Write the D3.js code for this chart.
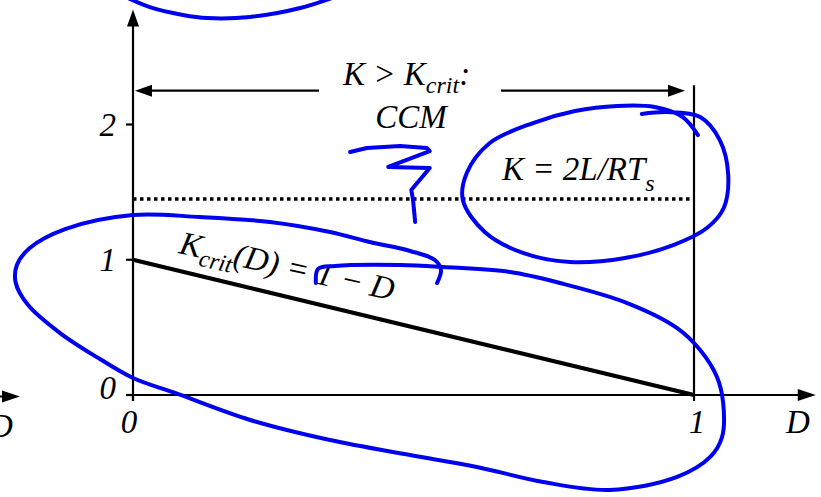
<!DOCTYPE html>
<html><head><meta charset="utf-8">
<script src="https://cdn.jsdelivr.net/npm/d3@7"></script>
<style>
html,body{margin:0;padding:0;background:#fff;overflow:hidden}
text{font-family:"Liberation Serif","Times New Roman",Times,serif;font-style:italic;fill:#000}
</style>
</head><body>
<svg id="chart" width="821" height="497"></svg>
<script>
// Axis ticks
const xTicks = [0, 1];
const yTicks = [0, 1, 2];
// Critical K boundary: K_crit(D) = 1 - D
const critCurve = [[0, 1], [1, 0]];
// Level of K = 2L/RT_s
const kLevel = 1.45;
// Right edge of the D range
const dMax = 1;
// Extents of the arrows and guide lines (data units)
const axisTopK = 2.85, axisRightD = 1.217, regionArrowK = 2.25, edgeTopK = 2.29;

// Blue pen strokes, in (D, K) units
const penLoopLower = [
  [0.326,0.828],[0.330,0.932],[0.360,0.954],[0.476,0.961],[0.553,0.946],[0.672,0.909],
  [0.761,0.828],[0.881,0.680],[0.970,0.495],[1.011,0.333],[1.041,0.133],[1.052,-0.059],
  [1.050,-0.311],[1.029,-0.458],[0.970,-0.606],[0.850,-0.702],[0.731,-0.643],[0.613,-0.532],
  [0.494,-0.444],[0.351,-0.333],[0.209,-0.185],[0.075,0.015],[0.000,0.126],[-0.059,0.266],
  [-0.130,0.458],[-0.187,0.665],[-0.209,0.828],[-0.207,0.961],[-0.184,1.087],[-0.121,1.227],
  [0.000,1.331],[0.119,1.316],[0.244,1.279],[0.351,1.205],[0.422,1.131],[0.494,1.065],
  [0.538,0.998],[0.549,0.924],[0.542,0.828]
];
const penArcTop = [
  [-0.020,2.957],[0.030,2.868],[0.089,2.810],[0.132,2.787],[0.209,2.795],[0.298,2.861],[0.369,2.957]
];
const penScribble = [
  [0.387,1.797],[0.417,1.826],[0.476,1.841],[0.524,1.826],[0.529,1.804],
  [0.455,1.686],[0.529,1.678],[0.496,1.516],[0.499,1.449],[0.503,1.279]
];
const penLoopLevel = [
  [0.907,2.078],[0.952,2.092],[1.011,2.055],[1.046,1.885],[1.061,1.627],[1.053,1.383],
  [1.023,1.235],[0.963,1.109],[0.877,1.013],[0.779,0.983],[0.695,1.050],[0.627,1.205],
  [0.588,1.442],[0.595,1.641],[0.636,1.863],[0.713,2.011],[0.788,2.100],[0.863,2.137],
  [0.930,2.129],[0.980,2.055],[1.007,1.922]
];

const svg = d3.select("#chart");
const x = d3.scaleLinear().domain([0, 1]).range([133, 694]);
const y = d3.scaleLinear().domain([0, 2]).range([395, 124.5]);

const FS = 33, SUB = 24;

function arrowHead(tip, dir, len, half) {
  // dir: unit vector pointing toward the tip
  const [tx, ty] = tip, [dx, dy] = dir;
  const bx = tx - dx * len, by = ty - dy * len;
  const px = -dy * half, py = dx * half;
  svg.append("polygon")
    .attr("points", [[tx, ty], [bx + px, by + py], [bx - px, by - py]].map(p => p.join(",")).join(" "))
    .attr("fill", "#000");
}

// Dotted level K = 2L/RT_s
svg.append("line")
  .attr("x1", x(0)).attr("x2", x(dMax))
  .attr("y1", y(kLevel)).attr("y2", y(kLevel))
  .attr("stroke", "#000").attr("stroke-width", 3.5)
  .attr("stroke-dasharray", "3.5,3.5");

// Right edge D = 1
svg.append("line")
  .attr("x1", x(dMax)).attr("x2", x(dMax))
  .attr("y1", y(edgeTopK)).attr("y2", y(0))
  .attr("stroke", "#000").attr("stroke-width", 2.2);

// Axes
svg.append("line").attr("x1", x(0)).attr("x2", x(axisRightD) - 12)
  .attr("y1", y(0)).attr("y2", y(0)).attr("stroke", "#000").attr("stroke-width", 2.2);
arrowHead([x(axisRightD), y(0)], [1, 0], 18, 6);
svg.append("line").attr("x1", x(0)).attr("x2", x(0))
  .attr("y1", y(0) + 6).attr("y2", y(axisTopK) + 12).attr("stroke", "#000").attr("stroke-width", 2.2);
arrowHead([x(0), y(axisTopK)], [0, -1], 17, 6);

// Ticks
yTicks.forEach(t => {
  svg.append("line").attr("x1", x(0) - 7).attr("x2", x(0))
    .attr("y1", y(t)).attr("y2", y(t)).attr("stroke", "#000").attr("stroke-width", 2.2);
  svg.append("text").attr("x", x(0) - 17).attr("y", y(t) + (t === 0 ? 4 : 11))
    .attr("text-anchor", "end").attr("font-size", FS).text(t);
});
xTicks.forEach(t => {
  svg.append("line").attr("x1", x(t)).attr("x2", x(t))
    .attr("y1", y(0)).attr("y2", y(0) + 6).attr("stroke", "#000").attr("stroke-width", 2.2);
  svg.append("text").attr("x", x(t) - 4 + t * 7).attr("y", y(0) + 38)
    .attr("text-anchor", "middle").attr("font-size", FS).text(t);
});
svg.append("text").attr("x", 786).attr("y", y(0) + 38).attr("font-size", FS).text("D");

// Neighbouring panel's axis end at the left edge
svg.append("line").attr("x1", -5).attr("x2", 4).attr("y1", y(0) + 1.5).attr("y2", y(0) + 1.5)
  .attr("stroke", "#000").attr("stroke-width", 2);
arrowHead([20, y(0) + 1.5], [1, 0], 18, 6);
svg.append("text").attr("x", -11).attr("y", y(0) + 42).attr("font-size", FS).text("D");

// K_crit(D) line
svg.append("path").datum(critCurve)
  .attr("d", d3.line().x(d => x(d[0])).y(d => y(d[1])))
  .attr("stroke", "#000").attr("stroke-width", 4).attr("fill", "none");

// Region arrows
const ra = y(regionArrowK);
svg.append("line").attr("x1", x(0) + 15).attr("x2", 319).attr("y1", ra).attr("y2", ra)
  .attr("stroke", "#000").attr("stroke-width", 2.2);
arrowHead([x(0) + 2, ra], [-1, 0], 17, 6);
svg.append("line").attr("x1", 501).attr("x2", x(dMax) - 22).attr("y1", ra).attr("y2", ra)
  .attr("stroke", "#000").attr("stroke-width", 2.2);
arrowHead([x(dMax) - 9, ra], [1, 0], 17, 6);

// Labels
const t1 = svg.append("text").attr("x", 343).attr("y", 85).attr("font-size", FS);
t1.append("tspan").text("K > K");
t1.append("tspan").attr("font-size", SUB).attr("dy", 8).text("crit");
t1.append("tspan").attr("dy", -8).text(":");
svg.append("text").attr("x", 411).attr("y", 128).attr("text-anchor", "middle")
  .attr("font-size", FS).text("CCM");
const t2 = svg.append("text").attr("x", 502).attr("y", 180).attr("font-size", FS);
t2.append("tspan").text("K = 2L/RT");
t2.append("tspan").attr("font-size", SUB).attr("dy", 11).text("s");

const t3 = svg.append("text").attr("font-size", FS)
  .attr("transform", `translate(178,253) rotate(12.5)`);
t3.append("tspan").text("K");
t3.append("tspan").attr("font-size", SUB).attr("dy", 8).text("crit");
t3.append("tspan").attr("dy", -8).text("(D) = 1 \u2212 D");

// Blue pen strokes
const pen = d3.line().x(d => x(d[0])).y(d => y(d[1]));
[penLoopLower, penArcTop, penLoopLevel].forEach(s => {
  svg.append("path").datum(s)
    .attr("d", pen.curve(d3.curveCatmullRom.alpha(0.5)))
    .attr("stroke", "#0000f0").attr("stroke-width", 4).attr("fill", "none")
    .attr("stroke-linecap", "round").attr("stroke-linejoin", "round");
});
svg.append("path").datum(penScribble)
  .attr("d", pen.curve(d3.curveLinear))
  .attr("stroke", "#0000f0").attr("stroke-width", 4).attr("fill", "none")
  .attr("stroke-linecap", "round").attr("stroke-linejoin", "round");
</script>
</body></html>
